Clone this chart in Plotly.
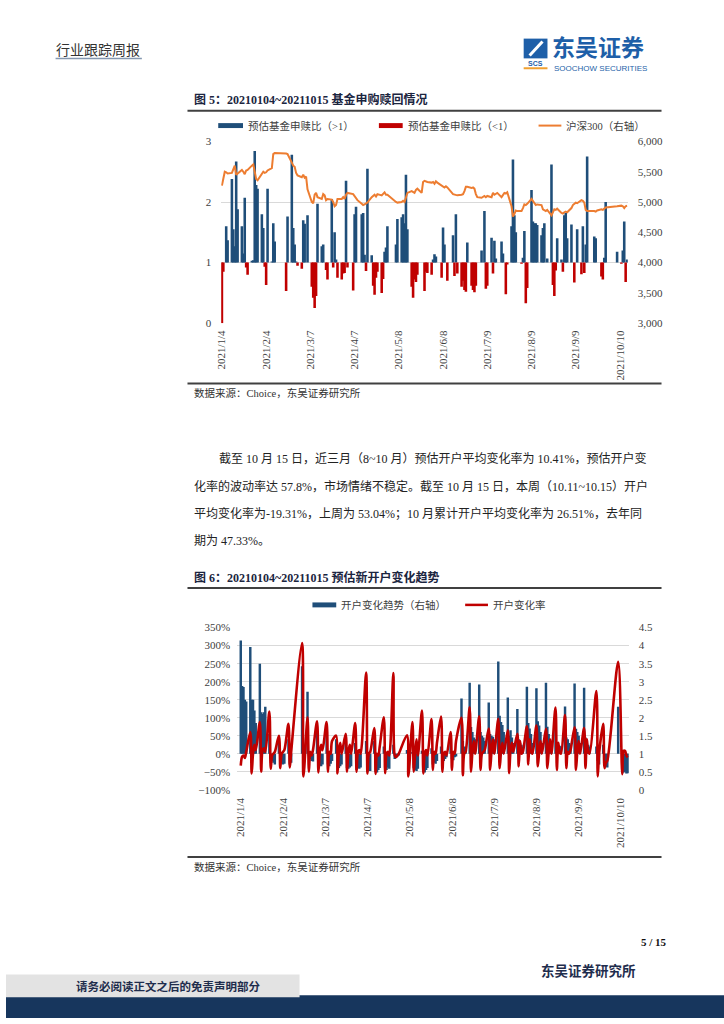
import pandas as pd
import plotly.graph_objects as go

W, H = 724, 1024
DAY = 86400000

# ---------------- categories ----------------
holidays = ["2021-02-11", "2021-02-12", "2021-02-15", "2021-02-16", "2021-02-17",
            "2021-04-05", "2021-05-03", "2021-05-04", "2021-05-05", "2021-06-14",
            "2021-09-20", "2021-09-21", "2021-10-01", "2021-10-04", "2021-10-05",
            "2021-10-06", "2021-10-07"]
trade_dates = [d.strftime("%Y-%m-%d") for d in pd.bdate_range("2021-01-04", "2021-10-15")
               if d.strftime("%Y-%m-%d") not in holidays]

tick_dates = ["2021-01-04", "2021-02-04", "2021-03-07", "2021-04-07", "2021-05-08",
              "2021-06-08", "2021-07-09", "2021-08-09", "2021-09-09", "2021-10-10"]
tick_labels = ["2021/1/4", "2021/2/4", "2021/3/7", "2021/4/7", "2021/5/8",
               "2021/6/8", "2021/7/9", "2021/8/9", "2021/9/9", "2021/10/10"]

# ---------------- chart 1: fund subscription / redemption ratio ----------------
ratio_jan = [0.0, 0.85, 1.0, 1.6, 1.37, 2.38, 1.55, 1.27, 2.67, 1.88,
             1.6, 1.15, 2.07, 0.92, 0.8, 1.03, 1.04, 2.84, 2.28, 2.22]
ratio_feb = [1.8, 1.57, 0.93, 0.63, 2.22, 1.02, 1.65, 1.35, 0.53, 1.76,
             2.78, 1.57, 1.3, 1.02, 0.95]
ratio_mar = [0.9, 1.7, 1.64, 1.0, 1.78, 0.6, 0.42, 0.25, 0.45, 1.97,
             1.27, 1.3, 1.0, 0.88, 0.72, 2.05, 0.92, 1.5, 1.05, 0.75,
             0.72, 0.82, 0.83]
ratio_apr = [2.35, 0.92, 0.54, 1.8, 1.92, 1.0, 1.8, 1.82, 1.13, 0.86, 2.55,
             1.12, 0.62, 0.47, 0.75, 0.85, 0.5, 0.73, 1.18, 1.25, 1.6]
ratio_may = [1.3, 1.72, 1.75, 1.8, 1.65, 2.45, 1.55, 0.6, 0.42, 0.72, 0.68, 0.8,
             1.0, 1.0, 0.53, 0.85, 0.83, 0.8]
ratio_jun = [1.05, 1.14, 1.1, 1.0, 0.75, 1.58, 1.3, 1.0, 0.7, 1.45, 0.78, 1.8, 0.82,
             0.6, 0.7, 0.55, 0.52, 1.33, 0.62, 0.55, 0.51]
ratio_jul = [0.62, 1.0, 1.2, 1.0, 1.85, 0.57, 0.62, 1.41, 0.82, 1.36, 1.07, 1.0,
             1.35, 1.15, 1.0, 0.48, 0.97, 1.6, 2.7, 1.78, 1.5, 1.0]
ratio_aug = [0.98, 1.08, 1.52, 0.33, 0.58, 2.2, 1.68, 1.65, 1.65, 1.62,
             1.45, 1.57, 1.65, 1.0, 1.07, 2.62, 0.63, 0.45, 0.87, 1.4, 1.05, 0.85]
ratio_sep = [1.78, 1.82, 1.4, 1.63, 1.0, 0.67, 1.0, 1.55, 0.81, 1.6, 0.83, 1.3, 2.75,
             1.43, 1.4, 1.0, 0.77, 0.72, 1.08, 2.0]
ratio_oct = [1.18, 0.98, 1.2, 1.68, 0.68, 1.05]

csi_jan = [5270, 5400, 5500, 5490, 5470, 5480, 5560, 5600, 5450, 5470,
           5530, 5500, 5460, 5520, 5530, 5600, 5620, 5500, 5380, 5360]
csi_feb = [5450, 5500, 5480, 5490, 5520, 5560, 5790, 5810, 5800, 5790,
           5650, 5600, 5580, 5480, 5440]
csi_mar = [5410, 5450, 5400, 5420, 5210, 5000, 4980, 5120, 5150, 5080,
           5050, 5130, 5110, 5030, 5050, 5040, 5000, 4930, 4950, 5050,
           5050, 5080, 5050]
csi_apr = [5120, 5150, 5130, 5100, 5080, 5030, 4970, 4950, 4960, 4980, 4990,
           5080, 5100, 5120, 5090, 5130, 5110, 5140, 5160, 5120, 5120]
csi_may = [5000, 4990, 5000, 5020, 5000, 5100, 5150, 5180, 5170, 5150, 5200, 5220,
           5150, 5330, 5350, 5340, 5330, 5320]
csi_jun = [5330, 5300, 5340, 5320, 5270, 5250, 5240, 5260, 5240, 5130, 5120, 5110, 5110,
           5120, 5130, 5180, 5250, 5250, 5230, 5240, 5220]
csi_jul = [5130, 5080, 5070, 5090, 5100, 5080, 5100, 5080, 5150, 5120, 5130, 5150,
           5080, 5110, 5150, 5140, 5160, 4930, 4760, 4800, 4860, 4850]
csi_aug = [4850, 4900, 4960, 4950, 4970, 5050, 5020, 4990, 4950, 4960,
           4950, 4880, 4860, 4850, 4870, 4780, 4830, 4880, 4870, 4890, 4820, 4810]
csi_sep = [4830, 4840, 4830, 4900, 4950, 4970, 4990, 4980, 5030, 5020, 4990, 4870, 4850,
           4850, 4840, 4860, 4880, 4870, 4900, 4910]
csi_oct = [4930, 4940, 4930, 4900, 4930, 4940]

# ---------------- chart 2: new account change ----------------
rate_jan = [-33, -8, -5, -12, 5, 60, -55, 0, 25, 10, 88, -50, 10, 15, 5, 117, -42, -5, 0, 5]
rate_feb = [50, -40, 0, 5, 10, 83, -38, 5, 307, -63, 101, -50, 5, -5, 10]
rate_mar = [90, -52, 5, 25, 10, 88, -50, 5, 0, 35, 50, -55, 5, 30, 0, 55, -50, 5, 25, 0,
            85, -50, 5]
rate_apr = [10, 0, 225, -55, 0, 5, 71, -56, 0, -5, 20, 101, -54, 0, 5, -5,
            224, -5, -10, -5, 0]
rate_may = [51, -63, 88, -50, 0, 40, -5, 120, -55, 0, 10, -5, 96, -45, 5, 0, 30, 103]
rate_jun = [-50, 0, 5, -5, 60, -45, 5, 0, 35, 100, -60, 0, 5, 129, -50, 5, 35, 0,
            104, -45, 0]
rate_jul = [5, 10, 70, -45, 5, 40, 0, 97, -40, 5, 30, 0, 65, -54, 10, 30, 5,
            55, -35, 35, 0, 5]
rate_aug = [76, -30, 40, 5, 0, 78, -35, 5, 35, 0, 69, -40, 5, 40, 0, 128, -45, 30, 5, 0,
            107, -40]
rate_sep = [5, 0, 10, 73, -45, 5, 35, 0, 71, -40, 40, 5, 0, 174, -63, 0, 83, -40, -25, -20]
rate_oct = [255, -57, 8, 8, -5, -10]

trend_jan = [4.14, 2.88, 2.85, 2.50, 2.45, 3.96, 2.50, 2.50, 2.20, 1.85,
             3.50, 2.15, 2.10, 2.15, 2.30, 1.55, 0.85, 0.80, 0.75, 0.70]
trend_feb = [1.30, 0.80, 0.75, 0.70, 0.72, 1.40, 0.70, 0.75, 3.43, 1.00,
             2.72, 0.95, 0.85, 0.80, 0.78]
trend_mar = [1.60, 0.75, 0.70, 0.65, 0.70, 1.50, 0.70, 0.65, 0.72, 0.80,
             1.40, 0.62, 0.60, 0.65, 0.70, 1.45, 0.60, 0.58, 0.62, 0.65,
             1.30, 0.55, 0.60]
trend_apr = [0.58, 0.62, 1.35, 0.50, 0.55, 0.52, 1.35, 0.50, 0.48, 0.55, 0.60,
             1.20, 0.60, 0.55, 0.62, 0.58, 1.25, 0.85, 0.90, 0.92, 0.95]
trend_may = [1.10, 0.88, 1.05, 0.60, 0.55, 0.52, 0.58, 1.08, 0.50, 0.48, 0.55, 0.60,
             1.15, 0.70, 0.75, 0.72, 0.80, 1.20]
trend_jun = [0.75, 0.80, 0.85, 0.90, 1.30, 0.85, 0.82, 0.90, 0.92, 2.53, 1.35, 1.20, 1.15,
             2.97, 1.74, 1.60, 1.45, 1.40, 2.92, 1.60, 1.50]
trend_jul = [1.45, 1.35, 2.42, 1.55, 1.50, 1.47, 1.40, 3.56, 2.05, 1.88, 1.80, 1.60,
             2.56, 1.50, 1.65, 1.45, 1.30, 2.24, 1.40, 1.30, 1.25, 1.20]
trend_aug = [2.86, 1.85, 1.70, 1.55, 1.30, 2.82, 1.90, 1.78, 1.60, 1.30,
             2.97, 1.75, 1.55, 1.40, 1.25, 1.90, 1.30, 1.24, 1.22, 1.20, 2.31, 1.45]
trend_sep = [1.40, 1.30, 1.25, 2.95, 1.69, 1.60, 1.50, 1.30, 2.83, 1.45, 1.30, 1.25, 1.20,
             1.20, 0.80, 0.70, 1.25, 0.70, 0.65, 0.62]
trend_oct = [2.30, 0.46, 0.48, 0.50, 0.45, 0.46]

ratio = ratio_jan + ratio_feb + ratio_mar + ratio_apr + ratio_may + ratio_jun + ratio_jul + ratio_aug + ratio_sep + ratio_oct
csi300 = csi_jan + csi_feb + csi_mar + csi_apr + csi_may + csi_jun + csi_jul + csi_aug + csi_sep + csi_oct
rate = rate_jan + rate_feb + rate_mar + rate_apr + rate_may + rate_jun + rate_jul + rate_aug + rate_sep + rate_oct
trend = trend_jan + trend_feb + trend_mar + trend_apr + trend_may + trend_jun + trend_jul + trend_aug + trend_sep + trend_oct
assert len(trade_dates) == len(ratio) == len(csi300) == len(rate) == len(trend), (
    len(trade_dates), len(ratio), len(csi300), len(rate), len(trend))

# ---------------- styles ----------------
BLUE = "#1f4e79"
RED = "#c00000"
ORANGE = "#ed7d31"
GRID = "#d9d9d9"
TXT = "#404040"
LOGO = "#1e5fa8"
SERIF = "Liberation Serif, Noto Sans CJK SC"
CJK = "Noto Sans CJK SC"


def px(x):
    return x / W


def py(y):
    return 1 - y / H


fig = go.Figure()

up_d = [d for d, v in zip(trade_dates, ratio) if v > 1]
up_v = [v - 1 for v in ratio if v > 1]
dn_d = [d for d, v in zip(trade_dates, ratio) if v < 1]
dn_v = [v - 1 for v in ratio if v < 1]

fig.add_trace(go.Bar(x=up_d, y=up_v, base=1, width=1.8 * DAY, marker=dict(color=BLUE, line_width=0),
                     name="预估基金申赎比（>1）", xaxis="x", yaxis="y", showlegend=False))
fig.add_trace(go.Bar(x=dn_d, y=dn_v, base=1, width=1.8 * DAY, marker=dict(color=RED, line_width=0),
                     name="预估基金申赎比（<1）", xaxis="x", yaxis="y", showlegend=False))
fig.add_trace(go.Scatter(x=trade_dates, y=csi300, mode="lines", line=dict(color=ORANGE, width=2),
                         name="沪深300（右轴）", xaxis="x", yaxis="y2", showlegend=False))

fig.add_trace(go.Bar(x=trade_dates, y=[v - 1 for v in trend], base=1, width=1.8 * DAY,
                     marker=dict(color=BLUE, line_width=0), name="开户变化趋势（右轴）",
                     xaxis="x2", yaxis="y3", showlegend=False))
fig.add_trace(go.Scatter(x=trade_dates, y=rate, mode="lines",
                         line=dict(color=RED, width=2.6, shape="spline", smoothing=0.9),
                         name="开户变化率", xaxis="x2", yaxis="y4", showlegend=False))

tickfont = dict(family="Liberation Serif", size=11, color=TXT)

fig.update_layout(
    width=W, height=H, autosize=False,
    margin=dict(l=0, r=0, t=0, b=0),
    paper_bgcolor="white", plot_bgcolor="white",
    barmode="overlay", hovermode=False,
    xaxis=dict(domain=[px(217), px(627)], anchor="y", type="date",
               range=["2021-01-03 12:00", "2021-10-15 12:00"],
               tickmode="array", tickvals=tick_dates, ticktext=tick_labels,
               tickangle=-90, tickfont=tickfont, showgrid=False, zeroline=False,
               showline=False, ticks="", ticklabelstandoff=4),
    yaxis=dict(domain=[py(321), py(137)], range=[0, 3], dtick=1, tickfont=tickfont,
               showgrid=True, gridcolor=GRID, gridwidth=1, zeroline=False, ticks="",
               ticklabelstandoff=9),
    yaxis2=dict(overlaying="y", side="right", anchor="x", range=[3000, 6000], dtick=500,
                tickformat=",", tickfont=tickfont, showgrid=False, zeroline=False, ticks="",
                ticklabelstandoff=9),
    xaxis2=dict(domain=[px(233), px(628)], anchor="y3", type="date",
                range=["2021-01-01 07:00", "2021-10-15 19:00"],
                tickmode="array", tickvals=tick_dates, ticktext=tick_labels,
                tickangle=-90, tickfont=tickfont, showgrid=False, zeroline=False,
                showline=False, ticks="", ticklabelstandoff=5),
    yaxis3=dict(domain=[py(793), py(629)], side="right", anchor="x2", range=[0, 4.5], dtick=0.5,
                tickfont=tickfont, showgrid=True, gridcolor=GRID, zeroline=False, ticks="",
                ticklabelstandoff=9),
    yaxis4=dict(overlaying="y3", side="left", anchor="x2", range=[-100, 350], dtick=50,
                ticksuffix="%", tickfont=tickfont, showgrid=False, zeroline=False, ticks="",
                ticklabelstandoff=6),
)

shapes = []
ann = []


def text(x, y, s, size=11, color=TXT, family=SERIF, anchor="left", bold=False):
    ann.append(dict(x=px(x), y=py(y), xref="paper", yref="paper", text=(f"<b>{s}</b>" if bold else s),
                    showarrow=False, xanchor=anchor, yanchor="middle",
                    font=dict(size=size, color=color, family=family)))


def rect(x0, y0, x1, y1, color):
    shapes.append(dict(type="rect", xref="paper", yref="paper", x0=px(x0), x1=px(x1), y0=py(y1), y1=py(y0),
                       fillcolor=color, line=dict(width=0), layer="above"))


def hline(x0, x1, y, color, width):
    shapes.append(dict(type="line", xref="paper", yref="paper", x0=px(x0), x1=px(x1), y0=py(y), y1=py(y),
                       line=dict(color=color, width=width)))


# header
text(48, 45, "行业跟踪周报", size=14, color="#333333")
hline(50, 137, 53, "#8497b0", 1.5)
# logo
rect(522, 33, 546, 53, LOGO)
shapes.append(dict(type="path", xref="paper", yref="paper",
                   path=f"M {px(528)} {py(50)} L {px(541)} {py(36)}",
                   line=dict(color="white", width=3)))
text(534, 58, "<b>SCS</b>", size=7, color=LOGO, family="Liberation Sans", anchor="center")
hline(522, 546, 63, "#f0a030", 2)
text(549, 40.5, "东吴证券", size=23, color=LOGO, family=CJK, bold=True)
text(551, 63, "SOOCHOW SECURITIES", size=8, color=LOGO, family="Liberation Sans")

# chart 1 title & legend
text(188, 95, "图 5：20210104~20211015 基金申购赎回情况", size=12, color="#1b2540", bold=True)
hline(183, 661, 106, "#404040", 2)
rect(214, 118.5, 239, 123.5, BLUE)
text(242, 121, "预估基金申赎比（&gt;1）", size=10.5)
rect(376, 118.5, 400, 123.5, RED)
text(403, 121, "预估基金申赎比（&lt;1）", size=10.5)
hline(537, 560, 121, ORANGE, 2)
text(563, 121, "沪深300（右轴）", size=10.5)
hline(183, 661, 382, "#404040", 2)
text(188, 392, "数据来源：Choice，东吴证券研究所", size=10.5, color="#333333")

# paragraph
text(213, 458, "截至 10 月 15 日，近三月（8~10 月）预估开户平均变化率为 10.41%，预估开户变", size=12, color="#222222")
text(188, 486, "化率的波动率达 57.8%，市场情绪不稳定。截至 10 月 15 日，本周（10.11~10.15）开户", size=12, color="#222222")
text(188, 514, "平均变化率为-19.31%，上周为 53.04%；10 月累计开户平均变化率为 26.51%，去年同", size=12, color="#222222")
text(188, 541, "期为 47.33%。", size=12, color="#222222")

# chart 2 title & legend
text(188, 578, "图 6：20210104~20211015 预估新开户变化趋势", size=12, color="#1b2540", bold=True)
hline(183, 661, 589, "#404040", 2)
rect(309, 603.5, 333, 608.5, BLUE)
text(336, 606, "开户变化趋势（右轴）", size=10.5)
hline(463, 486, 606, RED, 2.5)
text(489, 606, "开户变化率", size=10.5)
hline(183, 661, 861, "#404040", 2)
text(188, 871, "数据来源：Choice，东吴证券研究所", size=10.5, color="#333333")

# footer
text(669, 947, "5 / 15", size=11, color="#111111", family="Liberation Serif", anchor="right", bold=True)
text(637, 976, "东吴证券研究所", size=13.5, color="#1f2d4d", anchor="right", bold=True)
rect(0, 1001, 724, 1024, "#17365d")
rect(0, 980, 296, 1003, "#e3e3e3")
text(163, 992, "请务必阅读正文之后的免责声明部分", size=11.5, color="#1f2d4d", anchor="center", bold=True)

fig.update_layout(shapes=shapes, annotations=ann)
fig.write_html("out.html", config={"displayModeBar": False, "staticPlot": True},
               post_script="document.body.style.margin='0';document.body.style.overflow='hidden';")
